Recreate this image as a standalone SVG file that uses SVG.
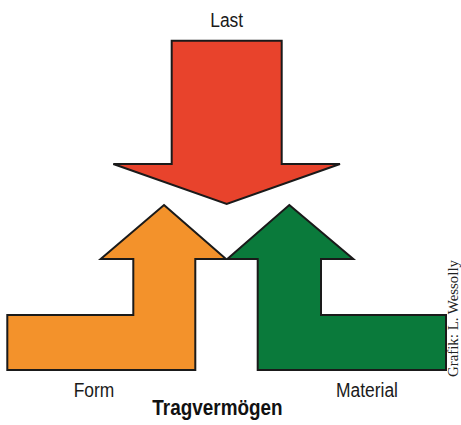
<svg xmlns="http://www.w3.org/2000/svg" width="461" height="425" viewBox="0 0 461 425">
  <style>
    .arrow { stroke: #1a1a1a; stroke-width: 2; stroke-linejoin: miter; }
    .label { font-family: "Liberation Sans", Arial, sans-serif; font-size: 21px; fill: #1a1a1a; text-anchor: middle; }
    .title { font-family: "Liberation Sans", Arial, sans-serif; font-size: 22px; font-weight: bold; fill: #111; text-anchor: middle; }
    .credit { font-family: "Liberation Serif", "Times New Roman", serif; font-size: 14.5px; fill: #222; }
  </style>
  <rect width="461" height="425" fill="#ffffff"/>
  <g id="connectors"/>
  <g id="last">
    <polygon class="arrow" fill="#E8432C" points="171.7,40.7 281.7,40.7 281.7,164 340,164 226.7,204 113.3,164 171.7,164"/>
    <text class="label" transform="translate(226.7,26.7) scale(0.83,1)">Last</text>
  </g>
  <g id="form">
    <polygon class="arrow" fill="#F3922B" points="164,205 226,259 195.3,259 195.3,370 7.3,370 7.3,315 133.3,315 133.3,259 100.7,259"/>
    <text class="label" transform="translate(94,396.7) scale(0.83,1)">Form</text>
  </g>
  <g id="material">
    <polygon class="arrow" fill="#0A7A3B" points="289.3,205 353.3,259 321,259 321,315 446,315 446,370 257.7,370 257.7,259 227.3,259"/>
    <text class="label" transform="translate(367,396.7) scale(0.83,1)">Material</text>
  </g>
  <g id="tragvermoegen">
    <text class="title" transform="translate(217.5,415) scale(0.86,1)">Tragvermögen</text>
  </g>
  <text class="credit" transform="translate(457.5,377) rotate(-90)" textLength="117" lengthAdjust="spacingAndGlyphs">Grafik: L. Wessolly</text>
</svg>
